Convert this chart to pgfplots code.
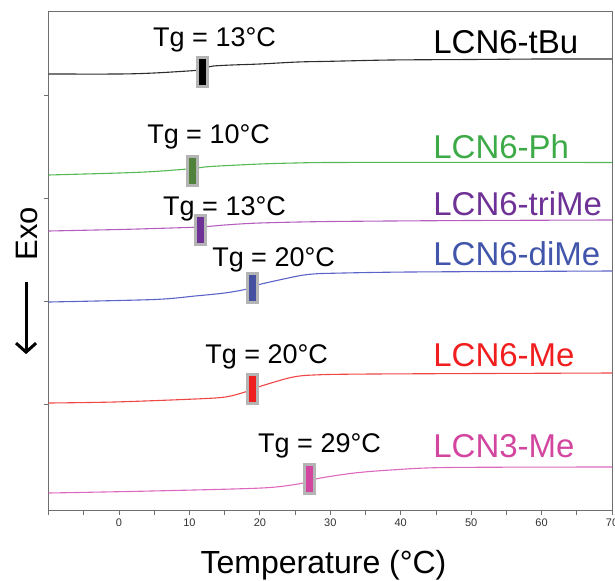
\documentclass[border=0pt]{standalone}
\usepackage{fontspec}
\setmainfont{Liberation Sans}
\usepackage{pgfplots}
\pgfplotsset{compat=1.18}
\usetikzlibrary{arrows.meta}

\definecolor{framegray}{RGB}{110,110,110}
\definecolor{ticktext}{RGB}{50,50,50}
\definecolor{bargray}{RGB}{180,180,180}
\definecolor{lblk}{RGB}{45,45,45}
\definecolor{lgrn}{RGB}{85,185,85}
\definecolor{tgrn}{RGB}{60,170,70}
\definecolor{mgrn}{RGB}{80,130,60}
\definecolor{lpur}{RGB}{180,95,190}
\definecolor{tpur}{RGB}{110,50,150}
\definecolor{lblu}{RGB}{90,100,200}
\definecolor{tblu}{RGB}{65,85,170}
\definecolor{mblu}{RGB}{70,80,160}
\definecolor{lred}{RGB}{240,70,70}
\definecolor{tred}{RGB}{240,30,30}
\definecolor{lpnk}{RGB}{220,105,190}
\definecolor{tpnk}{RGB}{210,70,160}

\pgfdeclareplotmark{tgbar}{%
  \pgfpathrectangle{\pgfqpoint{-5pt}{-14.5pt}}{\pgfqpoint{10pt}{29pt}}%
  \pgfusepathqfillstroke}

\newcommand{\tgfont}{\fontsize{27}{30}\selectfont}
\newcommand{\lcnfont}{\fontsize{33}{36}\selectfont}

\begin{document}
\begin{tikzpicture}
\begin{axis}[
  scale only axis, width=563.4pt, height=498pt,
  xmin=-10, xmax=70, ymin=12, ymax=510, y dir=reverse,
  clip=false,
  axis line style={draw=framegray, line width=1pt},
  xtick={-10,0,...,70}, xticklabels={,0,10,20,30,40,50,60,70},
  minor x tick num=1,
  ytick={95,198,301,404}, yticklabels={},
  tick pos=left, tick align=outside,
  major tick length=5pt, minor tick length=5pt,
  every tick/.style={draw=framegray, line width=0.8pt},
  tick label style={font=\fontsize{11}{13}\selectfont, text=ticktext},
  /pgf/number format/assume math mode=true,
  xlabel={Temperature (°C)},
  xlabel style={font=\fontsize{32}{36}\selectfont, at={(axis description cs:0.488,0)}, anchor=base, yshift=-63pt},
  ylabel={\tikz[baseline]{\draw[line width=3pt,-{Straight Barb[length=9pt,width=20pt]}] (72pt,0.36em)--(0pt,0.36em);}\hspace{20pt}Exo},
  ylabel style={font=\fontsize{31}{34}\selectfont, at={(axis description cs:-0.040,0.459)}, anchor=center},
]
% curves (y in picture rows, top = 12)
\addplot[lblk, line width=1.1pt, smooth] coordinates {
 (-10,74)(0,74)(5,73)(10.8,70.5)(11.8,69.5)(12.5,67.5)(13.4,66)(16,65)(20,64)(25.4,62)(30,61.3)(38.6,60)(50,59.5)(60,59)(70,59)};
\addplot[lgrn, line width=1.1pt, smooth] coordinates {
 (-10,175)(0,173)(5,171.5)(10.5,168.5)(13,166.5)(20,164)(25,163)(30,162.5)(50,162.3)(70,162.5)};
\addplot[lpur, line width=1.1pt, smooth] coordinates {
 (-10,231)(0,229.5)(5,228.5)(11.5,227)(15,225)(20,223)(30,221.5)(50,220.5)(70,220)};
\addplot[lblu, line width=1.1pt, smooth] coordinates {
 (-10,302)(5,299.5)(10.8,296)(15,293)(17.9,289.5)(18.9,287)(20.2,284)(25.4,276)(27.6,274)(30,273.3)(41.2,272)(70,271)};
\addplot[lred, line width=1.1pt, smooth] coordinates {
 (-10,403)(-0.7,402)(10.8,399)(15.1,397)(17.9,392)(19,389)(20.2,386)(24.4,377.5)(27.6,375)(35.9,374)(70,373)};
\addplot[lpnk, line width=1.1pt, smooth] coordinates {
 (-10,493)(4.6,491)(20.2,488)(25.4,484)(27.1,481)(28.6,478)(33.4,473)(38.6,470)(46.5,467.5)(70,467)};

% Tg markers
\addplot[only marks, mark=tgbar, mark options={draw=bargray, line width=3pt, fill=black}] coordinates {(11.8,72)};
\addplot[only marks, mark=tgbar, mark options={draw=bargray, line width=3pt, fill=mgrn}] coordinates {(10.5,171)};
\addplot[only marks, mark=tgbar, mark options={draw=bargray, line width=3pt, fill=tpur}] coordinates {(11.5,229.5)};
\addplot[only marks, mark=tgbar, mark options={draw=bargray, line width=3pt, fill=mblu}] coordinates {(18.9,287.5)};
\addplot[only marks, mark=tgbar, mark options={draw=bargray, line width=3pt, fill=tred}] coordinates {(19.0,389)};
\addplot[only marks, mark=tgbar, mark options={draw=bargray, line width=3pt, fill=tpnk}] coordinates {(27.1,479)};

% Tg labels
\node[anchor=base west, font=\tgfont, inner sep=0pt] at (axis cs:4.83,47) {Tg = 13°C};
\node[anchor=base west, font=\tgfont, inner sep=0pt] at (axis cs:3.98,143) {Tg = 10°C};
\node[anchor=base west, font=\tgfont, inner sep=0pt] at (axis cs:6.25,215) {Tg = 13°C};
\node[anchor=base west, font=\tgfont, inner sep=0pt] at (axis cs:13.21,266) {Tg = 20°C};
\node[anchor=base west, font=\tgfont, inner sep=0pt] at (axis cs:12.22,363) {Tg = 20°C};
\node[anchor=base west, font=\tgfont, inner sep=0pt] at (axis cs:19.74,452) {Tg = 29°C};

% sample names
\node[anchor=base west, font=\lcnfont, inner sep=0pt, text=black] at (axis cs:44.6,54) {LCN6-tBu};
\node[anchor=base west, font=\lcnfont, inner sep=0pt, text=tgrn] at (axis cs:44.6,158) {LCN6-Ph};
\node[anchor=base west, font=\lcnfont, inner sep=0pt, text=tpur] at (axis cs:44.6,215) {LCN6-triMe};
\node[anchor=base west, font=\lcnfont, inner sep=0pt, text=tblu] at (axis cs:44.6,265) {LCN6-diMe};
\node[anchor=base west, font=\lcnfont, inner sep=0pt, text=tred] at (axis cs:44.6,366) {LCN6-Me};
\node[anchor=base west, font=\lcnfont, inner sep=0pt, text=tpnk] at (axis cs:44.6,457) {LCN3-Me};
\end{axis}
\pgfresetboundingbox
\path[use as bounding box] ([xshift=-48.6pt,yshift=-70pt]current axis.south west) rectangle ([xshift=3pt,yshift=12pt]current axis.north east);
\end{tikzpicture}
\end{document}
